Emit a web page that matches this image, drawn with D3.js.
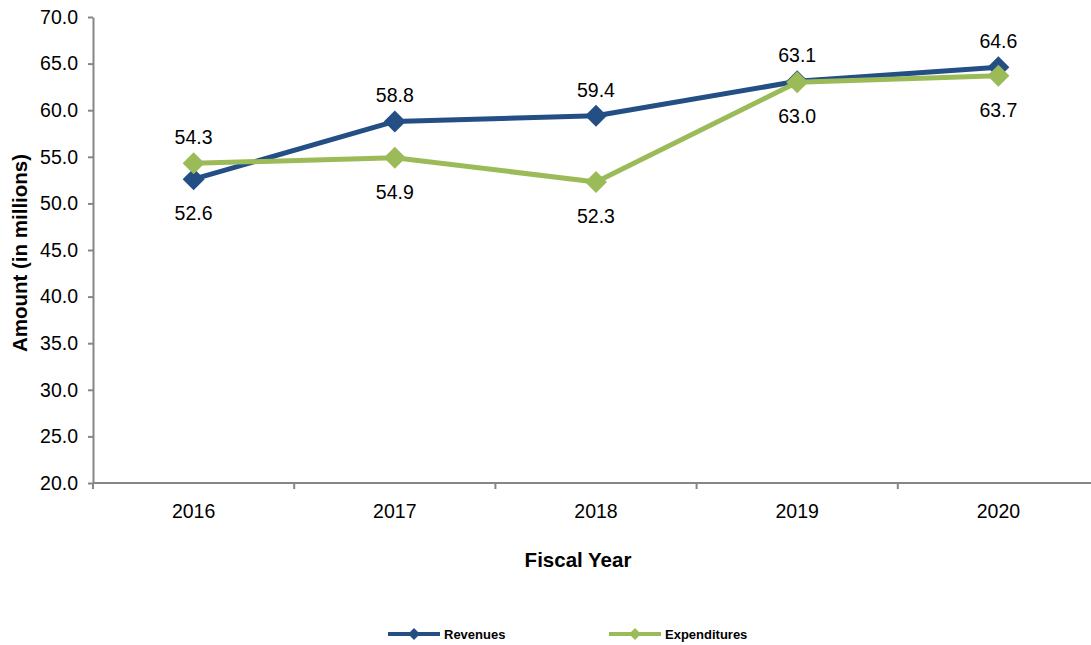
<!DOCTYPE html>
<html>
<head>
<meta charset="utf-8">
<script src="https://cdn.jsdelivr.net/npm/d3@7/dist/d3.min.js"></script>
<style>
  html, body { margin: 0; padding: 0; background: #fff; }
  svg { display: block; font-family: "Liberation Sans", Arial, sans-serif; }
</style>
</head>
<body>
<svg id="chart" width="1091" height="645"></svg>
<script>
const years = ["2016", "2017", "2018", "2019", "2020"];
const revenues = [52.6, 58.8, 59.4, 63.1, 64.6];
const expenditures = [54.3, 54.9, 52.3, 63.0, 63.7];
const yTicks = [20, 25, 30, 35, 40, 45, 50, 55, 60, 65, 70];
// label placement per point: true = above the marker
const revAbove = [false, true, true, true, true];
const expAbove = [true, false, false, false, false];

(function () {
  const series = [
    { name: "Revenues", values: revenues, color: "#234F85", above: revAbove },
    { name: "Expenditures", values: expenditures, color: "#9BBB59", above: expAbove }
  ];

  const svg = d3.select("#chart");
  const plotLeft = 93, plotRight = 1099, plotTop = 17, plotBottom = 483;
  const axisColor = "#868686";
  const fs = 19.5;

  const x = d3.scaleBand().domain(years).range([plotLeft, plotRight]);
  const y = d3.scaleLinear().domain([20, 70]).range([plotBottom, plotTop]);

  // y axis
  const yAxis = svg.append("g").attr("transform", `translate(${plotLeft},0)`)
    .call(d3.axisLeft(y).tickValues(yTicks).tickFormat(d3.format(".1f")).tickSizeInner(5).tickSizeOuter(0).tickPadding(10));
  yAxis.select(".domain").attr("stroke", axisColor).attr("stroke-width", 2);
  yAxis.selectAll(".tick line").attr("stroke", axisColor).attr("stroke-width", 2);
  yAxis.selectAll(".tick text").attr("font-size", fs).attr("fill", "#000")
    .attr("font-family", "'Liberation Sans', Arial, sans-serif");

  // x axis: ticks at band boundaries, labels at band centres
  const xAxisG = svg.append("g").attr("transform", `translate(0,${plotBottom})`);
  xAxisG.append("line").attr("x1", plotLeft).attr("x2", plotRight).attr("y1", 0).attr("y2", 0)
    .attr("stroke", axisColor).attr("stroke-width", 2);
  const boundaries = years.map(d => x(d)).concat([x(years[years.length - 1]) + x.bandwidth()]);
  xAxisG.selectAll("line.tk").data(boundaries).join("line").attr("class", "tk")
    .attr("x1", d => d).attr("x2", d => d).attr("y1", 0).attr("y2", 6)
    .attr("stroke", axisColor).attr("stroke-width", 2);
  xAxisG.selectAll("text").data(years).join("text")
    .attr("x", d => x(d) + x.bandwidth() / 2).attr("y", 35)
    .attr("text-anchor", "middle").attr("font-size", fs).attr("fill", "#000").text(d => d);

  // axis titles
  svg.append("text").attr("transform", `translate(27,${(plotTop + plotBottom) / 2 + 3}) rotate(-90)`)
    .attr("text-anchor", "middle").attr("font-size", 20.5).attr("font-weight", "bold").text("Amount (in millions)");
  svg.append("text").attr("x", 578).attr("y", 567)
    .attr("text-anchor", "middle").attr("font-size", 20.5).attr("font-weight", "bold").text("Fiscal Year");

  const cx = d => x(d) + x.bandwidth() / 2;
  const diamondPath = s => `M0,${-s}L${s},0L0,${s}L${-s},0Z`;

  const line = d3.line().x(d => cx(d.year)).y(d => y(d.value));

  series.forEach(s => {
    const pts = years.map((yr, i) => ({ year: yr, value: s.values[i], above: s.above[i] }));
    svg.append("path").datum(pts).attr("d", line)
      .attr("fill", "none").attr("stroke", s.color).attr("stroke-width", 5).attr("stroke-linejoin", "round");
    svg.selectAll(null).data(pts).join("path")
      .attr("transform", d => `translate(${cx(d.year)},${y(d.value)})`)
      .attr("d", diamondPath(11)).attr("fill", s.color);
    s.pts = pts;
  });

  // value labels
  series.forEach(s => {
    svg.selectAll(null).data(s.pts).join("text")
      .attr("x", d => cx(d.year))
      .attr("y", d => y(d.value) + (d.above ? -26 : 34))
      .attr("dy", "0.35em")
      .attr("text-anchor", "middle").attr("font-size", fs).attr("fill", "#000")
      .text(d => d.value.toFixed(1));
  });

  // legend
  const legend = [
    { name: "Revenues", color: series[0].color, x: 388 },
    { name: "Expenditures", color: series[1].color, x: 609 }
  ];
  const lg = svg.append("g");
  legend.forEach(l => {
    lg.append("line").attr("x1", l.x).attr("x2", l.x + 52).attr("y1", 634).attr("y2", 634)
      .attr("stroke", l.color).attr("stroke-width", 4);
    lg.append("path").attr("transform", `translate(${l.x + 26},634)`).attr("d", diamondPath(6)).attr("fill", l.color);
    lg.append("text").attr("x", l.x + 56).attr("y", 634).attr("dy", "0.35em")
      .attr("font-size", 13).attr("font-weight", "bold").attr("fill", "#000").text(l.name);
  });
})();
</script>
</body>
</html>
